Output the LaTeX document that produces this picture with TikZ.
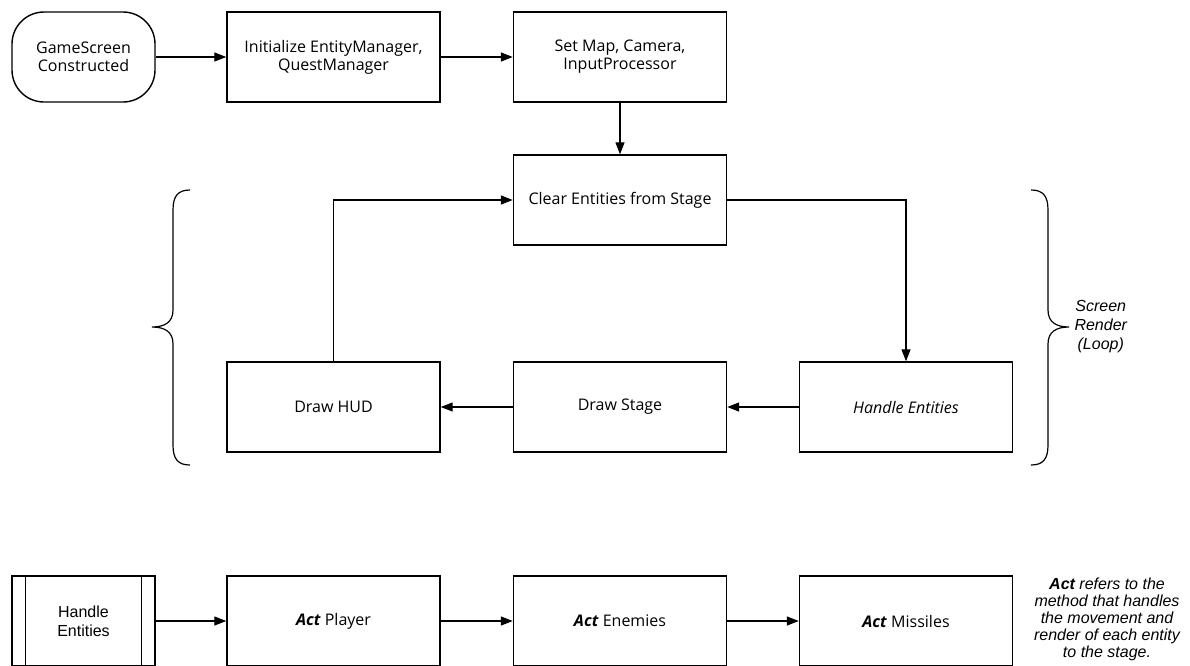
\documentclass[tikz,border=0pt]{standalone}
\usepackage{fontspec}
\setmainfont{Open Sans}
\newfontfamily\notefont{Liberation Sans}
\usetikzlibrary{arrows.meta}

\begin{document}
\begin{tikzpicture}[x=1pt,y=-1pt,
	box/.style={draw,line width=1.4pt,minimum width=213pt,minimum height=90pt,align=center,font=\fontsize{16}{18}\selectfont},
	term/.style={box,minimum width=143pt,rounded corners=32pt},
	subbox/.style={box,minimum width=143pt,font=\notefont\fontsize{16}{19}\selectfont},
	flow/.style={line width=1.3pt,-{Triangle[length=12pt,width=9pt]}},
	note/.style={align=center,font=\notefont\itshape\fontsize{16}{17}\selectfont}]
\useasboundingbox (0,0) rectangle (1190,665);

% top row
\node[term] (start) at (83.5,57) {GameScreen\\Constructed};
\node[box] (init) at (333.5,57) {Initialize EntityManager,\\QuestManager};
\node[box] (setmap) at (620,57) {Set Map, Camera,\\InputProcessor};

% render loop
\node[box] (clear) at (620,200) {Clear Entities from Stage};
\node[box] (handle) at (906,407) {\itshape Handle Entities};
\node[box] (stage) at (620,407) {Draw Stage};
\node[box] (hud) at (333.5,407) {Draw HUD};

\draw[flow] (start) -- (init);
\draw[flow] (init) -- (setmap);
\draw[flow] (setmap) -- (clear);
\draw[flow] (clear.east) -| (handle.north);
\draw[flow] (handle) -- (stage);
\draw[flow] (stage) -- (hud);
\draw[flow] (hud.north) |- (clear.west);

% braces
\coordinate (ltip) at (152,327);
\coordinate (rtip) at (1069,327);
\draw[line width=1.2pt] (190,190) .. controls (178,190) and (173,196) .. (173,210) -- (173,310)
	.. controls (173,322) and (165,327) .. (ltip) .. controls (165,327) and (173,332) .. (173,344)
	-- (173,445) .. controls (173,459) and (178,465) .. (190,465);
\draw[line width=1.2pt] (1031,190) .. controls (1043,190) and (1048,196) .. (1048,210) -- (1048,310)
	.. controls (1048,322) and (1056,327) .. (rtip) .. controls (1056,327) and (1048,332) .. (1048,344)
	-- (1048,445) .. controls (1048,459) and (1043,465) .. (1031,465);
\node[note,anchor=west,font=\notefont\itshape\fontsize{16}{19}\selectfont] (loop) at ([xshift=2pt]rtip) {Screen\\Render\\(Loop)};

% bottom row
\node[subbox] (sub) at (83.5,621) {Handle\\Entities};
\draw[line width=1.4pt] ([xshift=14pt]sub.north west) -- ([xshift=14pt]sub.south west)
	([xshift=-14pt]sub.north east) -- ([xshift=-14pt]sub.south east);
\node[box] (player) at (333.5,621) {\textbf{\itshape Act} Player};
\node[box] (enemies) at (620,621) {\textbf{\itshape Act} Enemies};
\node[box] (missiles) at (906,621) {\textbf{\itshape Act} Missiles};

\draw[flow] (sub) -- (player);
\draw[flow] (player) -- (enemies);
\draw[flow] (enemies) -- (missiles);

\node[note] (act) at (1107,619) {\textbf{Act} refers to the\\method that handles\\the movement and\\render of each entity\\to the stage.};
\end{tikzpicture}
\end{document}
